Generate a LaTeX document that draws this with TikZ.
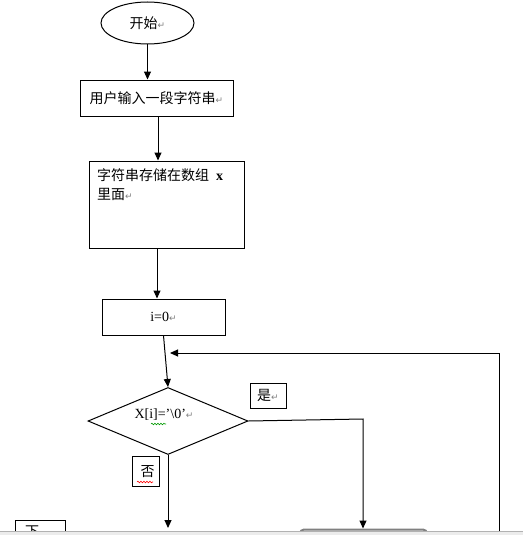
\documentclass[tikz,border=0pt]{standalone}
\usepackage{fontspec}
\setmainfont{Liberation Serif}
\newfontfamily\cjk{Noto Sans CJK SC}
\newfontfamily\symfont{DejaVu Sans}
\usetikzlibrary{arrows.meta,calc,shapes.geometric,decorations.pathmorphing}
\newcommand\retmark{{\symfont\color{gray}\fontsize{9}{9}\selectfont ↵}}

\tikzset{
  box/.style={draw, line width=1pt, inner sep=0pt},
  flowarr/.style={-{Triangle[length=8pt,width=7pt]}, line width=1pt},
  flowline/.style={line width=1pt},
  squiggle/.style={decorate, decoration={snake, amplitude=0.8pt, segment length=3pt}, line width=0.6pt}
}

\begin{document}
\begin{tikzpicture}[x=1pt, y=-1pt, font=\fontsize{14}{19}\selectfont]
\useasboundingbox (0,0) rectangle (523,535);
\clip (0,0) rectangle (523,535);

\node[box, ellipse, minimum width=93pt, minimum height=42pt] (start) at (147.5,23) {\cjk 开始\retmark};
\node[box, minimum width=153pt, minimum height=36pt] (input) at (156.5,98) {\cjk 用户输入一段字符串\retmark};
\node[box, minimum width=155pt, minimum height=87pt] (store) at (166.5,204.5) {};
\node[anchor=north west, align=left, inner sep=0pt] (storetext) at (97,168)
  {{\cjk 字符串存储在数组}\ \ \textbf{x}\\{\cjk 里面}\retmark};
\node[box, minimum width=123pt, minimum height=36pt] (init) at (163.5,317) {i=0\retmark};
\node[box, diamond, minimum width=160pt, minimum height=67pt] (cond) at (168,421) {};
\node (condtext) at (164,415) {X[i]=’\textbackslash0’\retmark};
\node[box, minimum width=36pt, minimum height=25pt] (yes) at (268,395.5) {\cjk 是\retmark};
\node[box, minimum width=27pt, minimum height=30pt, anchor=north west, align=left] (no) at (132,456)
  {\hspace{3pt}\cjk 否};
\node[box, minimum width=50pt, minimum height=40pt, anchor=north west] (next) at (15,520) {};
\node[anchor=north, inner sep=0pt] (nexttext) at (32,526) {\cjk 下};
\node[draw=gray, line width=2pt, rounded corners=4pt, minimum width=127pt, minimum height=30pt,
  anchor=north] (stop) at (363.5,528.5) {};

\coordinate (back) at (499,353);
\coordinate (backlow) at (499,540);
\coordinate (yesturn) at (363,419);

\draw[flowarr] (start.south) -- (start.south |- input.north);
\draw[flowarr] ([xshift=1.5]input.south) -- ([xshift=1.5]input.south |- store.north);
\draw[flowarr] ([xshift=-9.5]store.south) -- ([xshift=-9.5]store.south |- init.north);
\draw[flowarr] (init.south) -- (cond.north);
\draw[flowarr] (backlow) -- (back) -- ([xshift=2]cond.north |- back);
\draw[flowarr] (cond.east) -- (yesturn) -- (yesturn |- stop.north);
\draw[flowarr] (cond.south) -- ++(0,73);

% spelling marks
\draw[squiggle, green!60!black] (151,424) -- (166,424);
\draw[squiggle, red] (137,482) -- (153,482);

% window edge
\fill[gray!15] (0,531) rectangle (523,535);
\draw[gray!60, line width=1pt] (0,531) -- (523,531);
\end{tikzpicture}
\end{document}
